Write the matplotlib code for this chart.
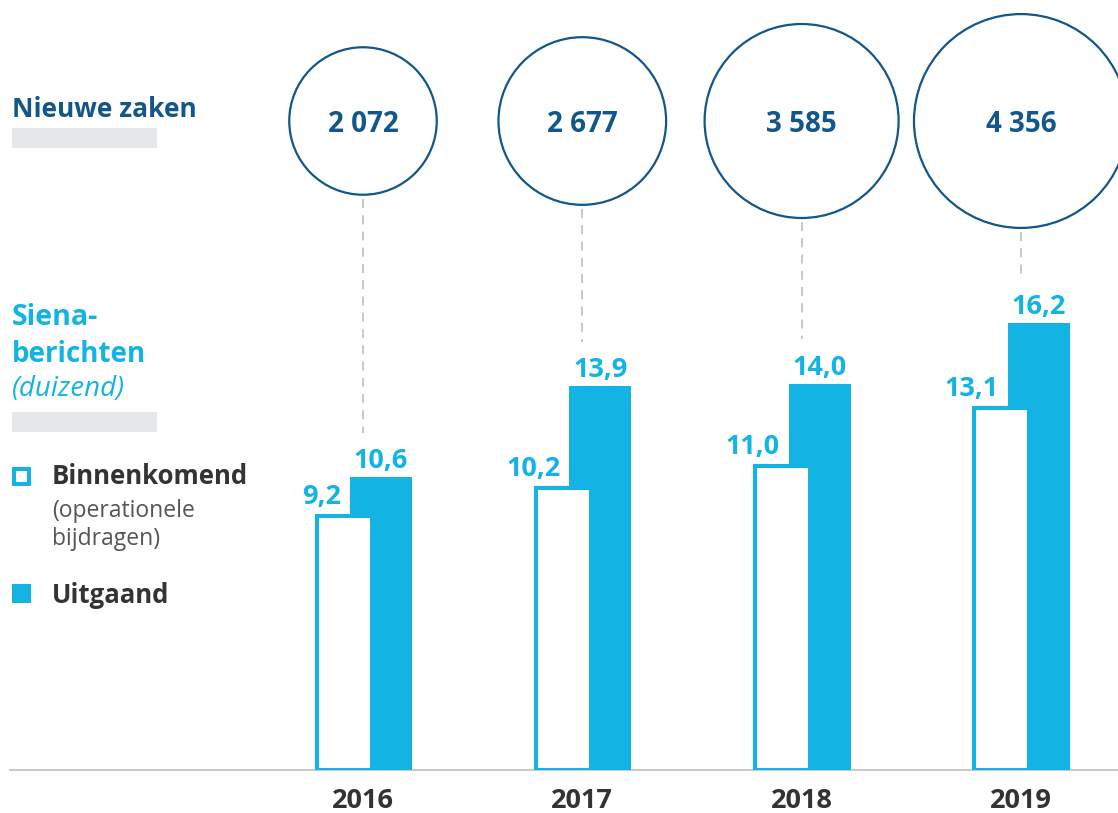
import matplotlib
matplotlib.use("Agg")
import matplotlib.pyplot as plt
from matplotlib.patches import Circle, Rectangle
import numpy as np

# ---- data ----
years = ["2016", "2017", "2018", "2019"]
nieuwe_zaken = [2072, 2677, 3585, 4356]
nieuwe_zaken_labels = ["2 072", "2 677", "3 585", "4 356"]
binnenkomend = [9.2, 10.2, 11.0, 13.1]
uitgaand = [10.6, 13.9, 14.0, 16.2]
binnenkomend_labels = ["9,2", "10,2", "11,0", "13,1"]
uitgaand_labels = ["10,6", "13,9", "14,0", "16,2"]

CYAN = "#13b4e4"
DARKBLUE = "#12568a"
DARKGRAY = "#333333"
MIDGRAY = "#555555"
LIGHTGRAY = "#e6e7e8"
LINEGRAY = "#c4c4c4"
FONT = "Open Sans"

W, H = 1118, 813
fig = plt.figure(figsize=(W / 100, H / 100), dpi=100)
fig.patch.set_facecolor("white")

# bar axes: baseline at pixel y=770, 27.6 px per unit
base_px = 770
px_per_unit = 27.6
ymax = 20
ax = fig.add_axes([0, (H - base_px) / H, 1, ymax * px_per_unit / H])
spacing = 219.3
x0 = 363
ax.set_xlim(-x0 / spacing, (W - x0) / spacing)
ax.set_ylim(0, ymax)
ax.axis("off")

# overlay axes in pixel coordinates (y down)
ov = fig.add_axes([0, 0, 1, 1], zorder=-1)
ov.set_xlim(0, W)
ov.set_ylim(H, 0)
ov.axis("off")

x = np.arange(len(years))
w_out = 55 / spacing
w_fill = 62 / spacing
off_out = -19 / spacing
off_fill = 18 / spacing

ax.bar(x + off_fill, uitgaand, width=w_fill, color=CYAN, edgecolor="none", zorder=2)
ax.bar(x + off_out, binnenkomend, width=w_out, color="white", edgecolor=CYAN,
       linewidth=2.9, zorder=3)

def to_px(xd, yd):
    dx, dy = ax.transData.transform((xd, yd))
    return dx, H - dy

for i in range(len(years)):
    # filled labels
    ax.annotate(uitgaand_labels[i], (x[i] + off_fill, uitgaand[i]), xytext=(0, 9),
                textcoords="offset pixels", ha="center", va="baseline",
                fontsize=19.5, fontweight="bold", color=CYAN, family=FONT, zorder=5)
    # outlined labels: right aligned left of filled bar
    ax.annotate(binnenkomend_labels[i], (x[i] + off_fill - w_fill / 2, binnenkomend[i]),
                xytext=(-9, 12), textcoords="offset pixels", ha="right", va="baseline",
                fontsize=19.5, fontweight="bold", color=CYAN, family=FONT, zorder=5)
    # year labels
    cx, _ = to_px(x[i], 0)
    ov.text(cx, 808, years[i], ha="center", va="baseline", fontsize=19.5,
            fontweight="bold", color=DARKGRAY, family=FONT)
    # circles
    r = 1.62 * np.sqrt(nieuwe_zaken[i])
    cy = 121
    ov.add_patch(Circle((cx, cy), r, facecolor="none", edgecolor=DARKBLUE,
                        linewidth=1.6, clip_on=False))
    ov.text(cx, 132, nieuwe_zaken_labels[i], ha="center", va="baseline",
            fontsize=20, fontweight="bold", color=DARKBLUE, family=FONT)
    # dashed connector
    _, ytop = to_px(x[i], uitgaand[i] + 1.6)
    ov.plot([cx, cx], [cy + r + 4, ytop], color=LINEGRAY, linewidth=1.3,
            linestyle=(0, (5, 4)))

# baseline
ov.plot([10, W], [770, 770], color=LINEGRAY, linewidth=1.3, zorder=10)

# left panel
ov.text(12, 117, "Nieuwe zaken", ha="left", va="baseline", fontsize=19,
        fontweight="bold", color=DARKBLUE, family=FONT)
ov.add_patch(Rectangle((12, 128), 145, 20, facecolor=LIGHTGRAY, edgecolor="none"))

ov.text(12, 325, "Siena-", ha="left", va="baseline", fontsize=20.5,
        fontweight="bold", color=CYAN, family=FONT)
ov.text(12, 362, "berichten", ha="left", va="baseline", fontsize=20,
        fontweight="bold", color=CYAN, family=FONT)
ov.text(12, 396, "(duizend)", ha="left", va="baseline", fontsize=20,
        style="italic", color=CYAN, family=FONT)
ov.add_patch(Rectangle((12, 412), 145, 20, facecolor=LIGHTGRAY, edgecolor="none"))

# legend
ov.add_patch(Rectangle((14, 469), 15, 15, facecolor="white", edgecolor=CYAN,
                       linewidth=2.9))
ov.text(52, 484, "Binnenkomend", ha="left", va="baseline", fontsize=18.5,
        fontweight="bold", color=DARKGRAY, family=FONT)
ov.text(52, 517, "(operationele", ha="left", va="baseline", fontsize=16.5,
        color=MIDGRAY, family=FONT)
ov.text(52, 545, "bijdragen)", ha="left", va="baseline", fontsize=16.5,
        color=MIDGRAY, family=FONT)
ov.add_patch(Rectangle((12, 584), 19, 19, facecolor=CYAN, edgecolor="none"))
ov.text(52, 603, "Uitgaand", ha="left", va="baseline", fontsize=18.5,
        fontweight="bold", color=DARKGRAY, family=FONT)

fig.savefig("out.png", dpi=100, facecolor="white")
